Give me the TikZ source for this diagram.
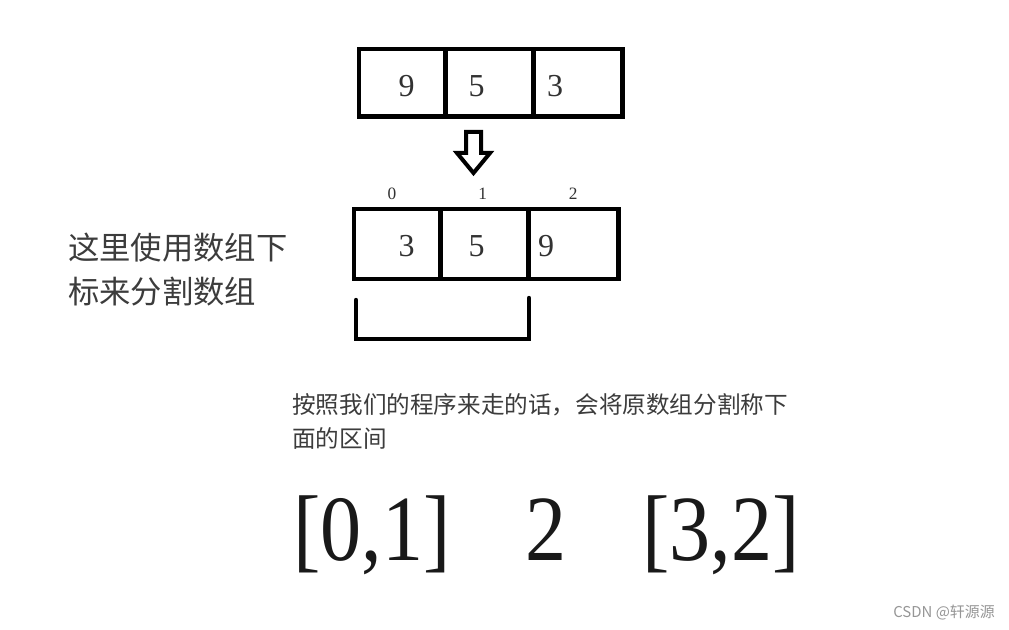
\documentclass[tikz,border=0pt]{standalone}
\usepackage{fontspec}
\setmainfont{Liberation Serif}
\newfontfamily\cjk{Noto Sans CJK SC}
\newfontfamily\bigserif[FakeStretch=0.88]{Liberation Serif}
\definecolor{numgray}{RGB}{50,50,50}
\definecolor{txtgray}{RGB}{60,60,60}
\definecolor{markgray}{RGB}{150,150,150}
\begin{document}
\begin{tikzpicture}[x=0.75pt,y=-0.75pt,
  arr/.style={draw=black,line width=3.5pt,line join=miter},
  bracketline/.style={draw=black,line width=3.3pt,line cap=round},
  arrowshape/.style={draw=black,line width=3pt,line join=miter,fill=white},
  cellnum/.style={font=\fontsize{24}{24}\selectfont,text=numgray,inner sep=0},
  idxnum/.style={font=\fontsize{13}{13}\selectfont,text=numgray,inner sep=0},
  cjktext/.style={text=txtgray,inner sep=0,align=left,anchor=west}]
\useasboundingbox (0,0) rectangle (1009,630);
\fill[white] (0,0) rectangle (1009,630);

% top array
\draw[arr] (359,49) rectangle (622.5,116.5);
\draw[arr] (445.3,49) -- (445.3,116.5);
\draw[arr] (533.3,49) -- (533.3,116.5);
\node[cellnum] (t9) at (406.7,86) {9};
\node[cellnum] (t5) at (476.7,86) {5};
\node[cellnum] (t3) at (555,86) {3};

% hollow down arrow
\draw[arrowshape] (466,132) -- (481,132) -- (481,153) -- (490,153) -- (473.5,173)
  -- (457,153) -- (466,153) -- cycle;

% index labels
\node[idxnum] (i0) at (392,193.5) {0};
\node[idxnum] (i1) at (482.7,193.5) {1};
\node[idxnum] (i2) at (573.3,193.5) {2};

% bottom array
\draw[arr] (354,209) rectangle (618.5,279);
\draw[arr] (440.5,209) -- (440.5,279);
\draw[arr] (528.3,209) -- (528.3,279);
\node[cellnum] (b3) at (406.7,246) {3};
\node[cellnum] (b5) at (476.7,246) {5};
\node[cellnum] (b9) at (546,246) {9};

% bracket
\draw[bracketline] (356,300) -- (356,339) -- (529,339) -- (529,298);

% left text
\node[cjktext,font=\cjk\fontsize{23.5}{33}\selectfont] (lefttxt) at (68,270)
  {这里使用数组下\\标来分割数组};

% middle text
\node[cjktext,font=\cjk\fontsize{17.7}{24.8}\selectfont] (midtxt) at (292,421.5)
  {按照我们的程序来走的话，会将原数组分割称下\\面的区间};

% big result text
\node[font=\bigserif\fontsize{70}{70}\selectfont,text=black!90,inner sep=0,anchor=base] (r1) at (372,560) {[0,1]};
\node[font=\bigserif\fontsize{70}{70}\selectfont,text=black!90,inner sep=0,anchor=base] (r2) at (546,560) {2};
\node[font=\bigserif\fontsize{70}{70}\selectfont,text=black!90,inner sep=0,anchor=base] (r3) at (721,560) {[3,2]};

% watermark
\node[font=\cjk\fontsize{11.2}{11.2}\selectfont,text=markgray,inner sep=0] (wm) at (944,613) {CSDN @轩源源};
\end{tikzpicture}
\end{document}
